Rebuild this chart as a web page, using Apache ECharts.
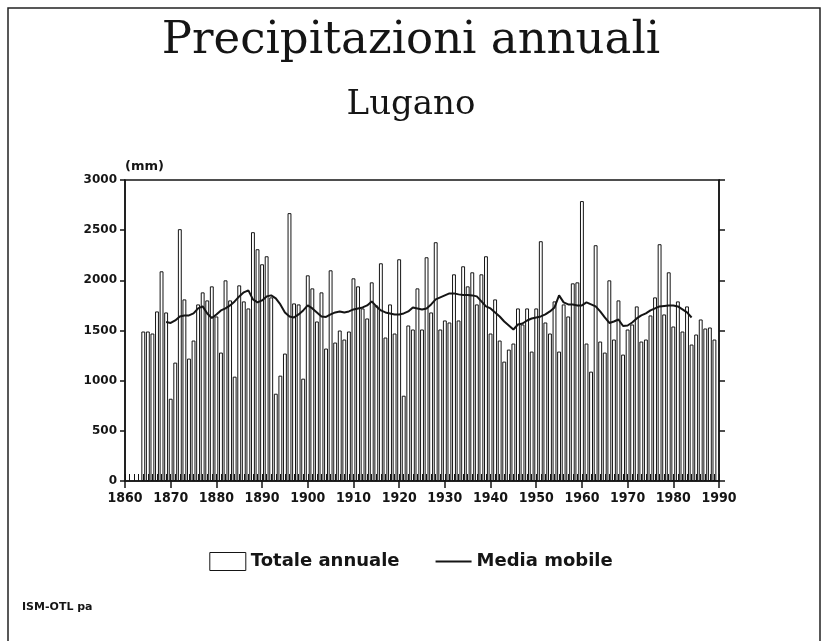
<!DOCTYPE html>
<html>
<head>
<meta charset="utf-8">
<script src="https://cdn.jsdelivr.net/npm/echarts@6/dist/echarts.min.js"></script>
<style>
  html, body { margin: 0; padding: 0; background: #fff; }
  #chart { width: 822px; height: 641px; }
</style>
</head>
<body>
<div id="chart"></div>
<script>
// axis years (tick labels every 10)
const years = [];
for (let y = 1860; y <= 1990; y++) years.push(String(y));

// annual totals (mm), 1864 - 1989
const totalStart = 1864;
const totals = [
  1490, 1490, 1470, 1690, 2090, 1680,                   // 1864-1869
  820, 1180, 2510, 1810, 1220, 1400, 1760, 1880, 1800, 1940, // 1870s
  1640, 1280, 2000, 1800, 1040, 1950, 1790, 1720, 2480, 2310, // 1880s
  2160, 2240, 1830, 870, 1050, 1270, 2670, 1770, 1760, 1020,  // 1890s
  2050, 1920, 1590, 1880, 1320, 2100, 1380, 1500, 1410, 1490, // 1900s
  2020, 1940, 1720, 1620, 1980, 1750, 2170, 1430, 1760, 1470, // 1910s
  2210, 850, 1550, 1510, 1920, 1510, 2230, 1680, 2380, 1510,  // 1920s
  1600, 1580, 2060, 1600, 2140, 1940, 2080, 1760, 2060, 2240, // 1930s
  1470, 1810, 1400, 1190, 1310, 1370, 1720, 1560, 1720, 1290, // 1940s
  1720, 2390, 1580, 1470, 1790, 1290, 1760, 1640, 1970, 1980, // 1950s
  2790, 1370, 1090, 2350, 1390, 1280, 2000, 1410, 1800, 1260, // 1960s
  1510, 1560, 1740, 1390, 1410, 1650, 1830, 2360, 1660, 2080, // 1970s
  1540, 1790, 1490, 1740, 1360, 1460, 1610, 1520, 1530, 1410  // 1980s
];

// moving average (mm), 1869 - 1984
const avgStart = 1869;
const movingAvg = [
  1585,                                                       // 1869
  1575, 1600, 1640, 1650, 1650, 1670, 1720, 1740, 1670, 1625, // 1870s
  1660, 1700, 1720, 1750, 1790, 1840, 1880, 1900, 1810, 1780, // 1880s
  1800, 1840, 1850, 1820, 1760, 1680, 1640, 1630, 1660, 1700, // 1890s
  1750, 1720, 1680, 1640, 1635, 1660, 1680, 1690, 1680, 1690, // 1900s
  1710, 1720, 1730, 1750, 1790, 1740, 1700, 1680, 1670, 1660, // 1910s
  1660, 1670, 1690, 1730, 1720, 1710, 1720, 1760, 1810, 1830, // 1920s
  1850, 1870, 1870, 1860, 1855, 1855, 1850, 1840, 1790, 1740, // 1930s
  1720, 1680, 1640, 1590, 1550, 1510, 1560, 1570, 1600, 1620, // 1940s
  1630, 1640, 1660, 1690, 1730, 1850, 1780, 1760, 1760, 1750, // 1950s
  1750, 1780, 1760, 1740, 1690, 1630, 1575, 1590, 1610, 1545, // 1960s
  1550, 1580, 1620, 1650, 1670, 1700, 1720, 1740, 1745, 1750, // 1970s
  1750, 1740, 1710, 1680, 1630                                // 1980-1984
];

const yTicks = { min: 0, max: 3000, step: 500 };

function alignTo(start, values) {
  return years.map(y => {
    const i = Number(y) - start;
    return i >= 0 && i < values.length ? values[i] : null;
  });
}

const ink = '#151515';
const chart = echarts.init(document.getElementById('chart'));

chart.setOption({
  backgroundColor: '#fff',
  animation: false,
  title: {
    text: 'Precipitazioni annuali',
    subtext: 'Lugano',
    left: 'center',
    top: 14,
    itemGap: 24,
    textStyle: {
      fontFamily: 'DejaVu Serif',
      fontWeight: 'normal',
      fontSize: 45,
      color: ink
    },
    subtextStyle: {
      fontFamily: 'DejaVu Serif',
      fontSize: 34,
      color: ink
    }
  },
  legend: {
    top: 547,
    left: 'center',
    itemGap: 36,
    itemWidth: 36,
    itemHeight: 18,
    textStyle: {
      fontFamily: 'DejaVu Sans',
      fontWeight: 'bold',
      fontSize: 18,
      color: ink
    },
    data: [
      { name: 'Totale annuale', icon: 'rect',
        itemStyle: { color: '#fff', borderColor: ink, borderWidth: 1 } },
      { name: 'Media mobile', icon: 'path://M0,0 L34,0 L34,2 L0,2 Z',
        itemStyle: { color: ink, borderWidth: 0 } }
    ]
  },
  grid: {
    left: 125,
    right: 103,
    top: 180,
    bottom: 160,
    show: true,
    borderColor: ink,
    borderWidth: 1.5,
    backgroundColor: 'transparent'
  },
  xAxis: [
    {
      type: 'category',
      data: years,
      boundaryGap: false,
      z: 5,
      axisLine: { lineStyle: { color: ink, width: 1.5 } },
      axisTick: { interval: 9, length: 7, lineStyle: { color: ink, width: 1.5 } },
      axisLabel: {
        interval: 9,
        margin: 10,
        color: ink,
        fontFamily: 'DejaVu Sans Condensed',
        fontWeight: 'bold',
        fontSize: 14
      }
    },
    {
      type: 'category',
      data: years,
      boundaryGap: false,
      position: 'bottom',
      z: 5,
      axisLine: { show: false },
      axisTick: { interval: 0, inside: true, length: 7, lineStyle: { color: ink, width: 1 } },
      axisLabel: { show: false }
    }
  ],
  yAxis: [
    {
      type: 'value',
      min: yTicks.min,
      max: yTicks.max,
      interval: yTicks.step,
      name: '(mm)',
      nameLocation: 'end',
      nameGap: 7,
      nameTextStyle: {
        align: 'left',
        color: ink,
        fontFamily: 'DejaVu Sans',
        fontWeight: 'bold',
        fontSize: 13
      },
      splitLine: { show: false },
      axisLine: { show: true, lineStyle: { color: ink, width: 1.5 } },
      axisTick: { show: true, length: 5, lineStyle: { color: ink, width: 1.5 } },
      axisLabel: {
        margin: 8,
        color: ink,
        fontFamily: 'DejaVu Sans',
        fontWeight: 'bold',
        fontSize: 12,
        formatter: v => String(v)
      }
    },
    {
      type: 'value',
      position: 'right',
      min: yTicks.min,
      max: yTicks.max,
      interval: yTicks.step,
      splitLine: { show: false },
      axisLine: { show: true, lineStyle: { color: ink, width: 1.5 } },
      axisTick: { show: true, length: 6, lineStyle: { color: ink, width: 1.5 } },
      axisLabel: { show: false }
    }
  ],
  series: [
    {
      name: 'Totale annuale',
      type: 'bar',
      data: alignTo(totalStart, totals),
      barCategoryGap: '15%',
      itemStyle: { color: '#fff', borderColor: ink, borderWidth: 1 },
      z: 2
    },
    {
      name: 'Media mobile',
      type: 'line',
      data: alignTo(avgStart, movingAvg),
      symbol: 'none',
      smooth: false,
      connectNulls: false,
      lineStyle: { color: ink, width: 2 },
      itemStyle: { color: ink },
      z: 3
    }
  ],
  graphic: [
    {
      type: 'rect',
      shape: { x: 8, y: 8, width: 812, height: 700 },
      style: { fill: 'none', stroke: '#222', lineWidth: 1.5 },
      silent: true
    },
    {
      type: 'text',
      left: 22,
      top: 602,
      style: {
        text: 'ISM-OTL pa',
        fill: ink,
        font: 'bold 11px "DejaVu Sans"'
      }
    }
  ]
});
</script>
</body>
</html>
